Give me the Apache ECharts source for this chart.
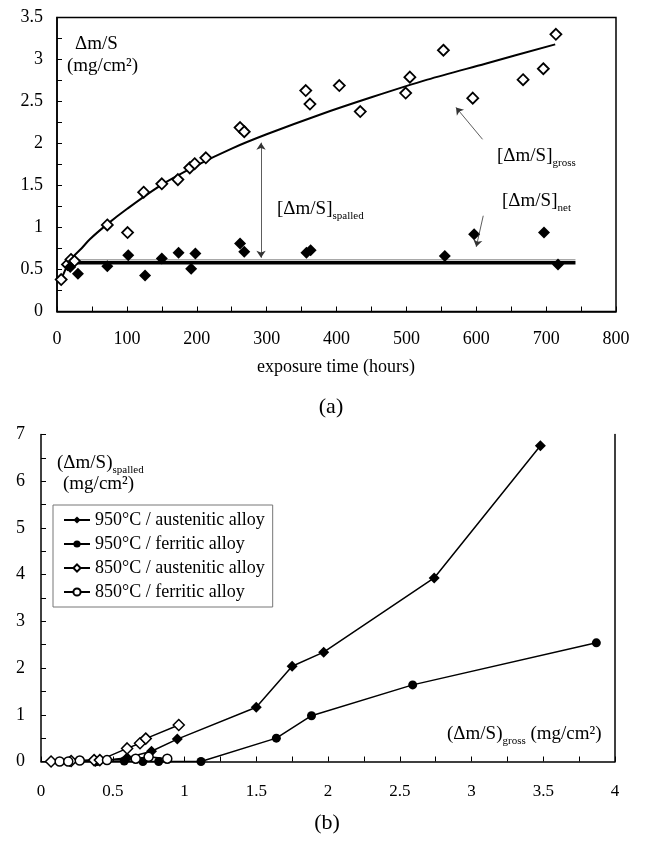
<!DOCTYPE html>
<html>
<head>
<meta charset="utf-8">
<script src="https://cdn.jsdelivr.net/npm/echarts@6/dist/echarts.min.js"></script>
<style>
html,body{margin:0;padding:0;background:#fff;}
#c{width:646px;height:841px;}
</style>
</head>
<body>
<div id="c"></div>
<script>
// ---------- (a) mass change vs exposure time ----------
const grossT = [6, 15, 20, 25, 72, 101, 124, 150, 173, 190, 197, 213, 262, 268, 356, 362, 404, 434, 499, 505, 553, 595, 667, 696, 714];
const grossV = [0.38, 0.56, 0.62, 0.60, 1.03, 0.94, 1.42, 1.52, 1.57, 1.71, 1.76, 1.83, 2.19, 2.14, 2.63, 2.47, 2.69, 2.38, 2.60, 2.79, 3.11, 2.54, 2.76, 2.89, 3.30];
const netT = [19, 30, 72, 102, 126, 150, 174, 192, 198, 262, 268, 357, 363, 555, 597, 697, 717];
const netV = [0.53, 0.45, 0.54, 0.67, 0.43, 0.63, 0.70, 0.51, 0.69, 0.81, 0.71, 0.70, 0.73, 0.66, 0.92, 0.94, 0.56];
const fitT = [6, 15, 23, 35, 47, 72, 100, 150, 200, 250, 300, 375, 450, 530, 613, 713];
const fitV = [0.38, 0.55, 0.65, 0.75, 0.86, 1.04, 1.22, 1.51, 1.74, 1.94, 2.11, 2.34, 2.55, 2.76, 2.95, 3.18];
const netLineT = [15, 742];
const netLineV = [0.58, 0.58];
const netLineGreyV = [0.615, 0.615];
const xTicksA = [0, 100, 200, 300, 400, 500, 600, 700, 800];
const yTicksA = [0, 0.5, 1, 1.5, 2, 2.5, 3, 3.5];
// annotation arrows (data space): [x1, y1, x2, y2]
const arrowSpalled = [292, 2.01, 292, 0.64];
const arrowGross = [609, 2.05, 571, 2.43];
const arrowNet = [610, 1.14, 600, 0.77];

// ---------- (b) spalled vs gross ----------
const names = ['950°C / austenitic alloy', '950°C / ferritic alloy', '850°C / austenitic alloy', '850°C / ferritic alloy'];
const aus950X = [0.20, 0.38, 0.60, 0.77, 0.95, 1.50, 1.75, 1.97, 2.74, 3.48];
const aus950Y = [0.00, 0.00, 0.08, 0.22, 0.48, 1.16, 2.04, 2.34, 3.93, 6.76];
const fer950X = [0.39, 0.58, 0.71, 0.82, 1.115, 1.64, 1.885, 2.59, 3.87];
const fer950Y = [0.00, 0.01, 0.00, 0.00, 0.00, 0.50, 0.98, 1.64, 2.54];
const aus850X = [0.07, 0.21, 0.37, 0.41, 0.60, 0.69, 0.73, 0.96];
const aus850Y = [0.00, 0.01, 0.03, 0.03, 0.28, 0.39, 0.49, 0.78];
const fer850X = [0.13, 0.19, 0.27, 0.46, 0.66, 0.75, 0.88];
const fer850Y = [0.00, 0.00, 0.02, 0.03, 0.06, 0.10, 0.06];
const xTicksB = [0, 0.5, 1, 1.5, 2, 2.5, 3, 3.5, 4];
const yTicksB = [0, 1, 2, 3, 4, 5, 6, 7];

const FONT = '"Liberation Serif", "Times New Roman", serif';
const zip = (a, b) => a.map((v, i) => [v, b[i]]);

const axisCommon = {
  type: 'value',
  axisLine: {show: true, lineStyle: {color: '#000', width: 1.5}},
  axisTick: {show: true, inside: true, length: 5, lineStyle: {color: '#000', width: 1}},
  minorTick: {show: true, splitNumber: 2, length: 5, lineStyle: {color: '#000', width: 1}},
  splitLine: {show: false},
  axisLabel: {color: '#000', fontFamily: FONT, fontSize: 18}
};

const rich = {
  a: {fontFamily: FONT, fontSize: 19, color: '#000', verticalAlign: 'bottom', lineHeight: 22},
  s: {fontFamily: FONT, fontSize: 11, color: '#000', verticalAlign: 'bottom', lineHeight: 22, padding: [0, 0, -3, 0]}
};
function label(x, y, txt, align) {
  return {type: 'text', x: x, y: y, style: {text: txt, rich: rich, align: align || 'left', verticalAlign: 'middle'}};
}
function plain(x, y, txt, size, align) {
  return {type: 'text', x: x, y: y, style: {text: txt, font: size + 'px ' + FONT, fill: '#000', align: align || 'left', verticalAlign: 'middle'}};
}

const chart = echarts.init(document.getElementById('c'), null, {renderer: 'canvas'});
const option = {
  backgroundColor: '#fff',
  animation: false,
  grid: [
    {left: 57, top: 17.5, width: 559, height: 294, show: true, borderColor: '#000', borderWidth: 1.5, backgroundColor: 'transparent'},
    {left: 41, top: 434.5, width: 574, height: 327}
  ],
  xAxis: [
    Object.assign({}, axisCommon, {gridIndex: 0, min: xTicksA[0], max: xTicksA[xTicksA.length - 1], interval: xTicksA[1] - xTicksA[0],
      axisLabel: Object.assign({}, axisCommon.axisLabel, {margin: 19})}),
    Object.assign({}, axisCommon, {gridIndex: 1, min: xTicksB[0], max: xTicksB[xTicksB.length - 1], interval: xTicksB[1] - xTicksB[0],
      axisLabel: Object.assign({}, axisCommon.axisLabel, {margin: 22, fontSize: 17})})
  ],
  yAxis: [
    Object.assign({}, axisCommon, {gridIndex: 0, min: yTicksA[0], max: yTicksA[yTicksA.length - 1], interval: yTicksA[1] - yTicksA[0],
      axisLabel: Object.assign({}, axisCommon.axisLabel, {margin: 14})}),
    Object.assign({}, axisCommon, {gridIndex: 1, min: yTicksB[0], max: yTicksB[yTicksB.length - 1], interval: yTicksB[1] - yTicksB[0],
      axisLabel: Object.assign({}, axisCommon.axisLabel, {margin: 16})}),
    {type: 'value', gridIndex: 1, position: 'right', min: 0, max: 7, axisLine: {show: true, onZero: false, lineStyle: {color: '#000', width: 1.5}},
      axisTick: {show: false}, axisLabel: {show: false}, splitLine: {show: false}}
  ],
  legend: {
    data: names,
    orient: 'vertical',
    left: 53, top: 505,
    itemWidth: 26, itemHeight: 9, itemGap: 6,
    padding: [6, 8, 6, 10],
    borderColor: '#777', borderWidth: 1,
    textStyle: {fontFamily: FONT, fontSize: 18, color: '#000'}
  },
  series: [
    {name: 'fitGross', type: 'line', xAxisIndex: 0, yAxisIndex: 0, data: zip(fitT, fitV), smooth: 0.3, showSymbol: false,
      lineStyle: {color: '#000', width: 2}, z: 2},
    {name: 'netGrey', type: 'line', xAxisIndex: 0, yAxisIndex: 0, data: zip(netLineT, netLineGreyV), showSymbol: false,
      lineStyle: {color: '#a8a8a8', width: 1.5}, z: 1},
    {name: 'netLine', type: 'line', xAxisIndex: 0, yAxisIndex: 0, data: zip(netLineT, netLineV), showSymbol: false,
      lineStyle: {color: '#000', width: 3.5}, z: 2},
    {name: 'gross', type: 'scatter', xAxisIndex: 0, yAxisIndex: 0, data: zip(grossT, grossV), symbol: 'diamond', symbolSize: 11,
      itemStyle: {color: '#fff', borderColor: '#000', borderWidth: 1.8, opacity: 1}, z: 3},
    {name: 'net', type: 'scatter', xAxisIndex: 0, yAxisIndex: 0, data: zip(netT, netV), symbol: 'diamond', symbolSize: 12,
      itemStyle: {color: '#000', opacity: 1}, z: 3},
    {name: 'arrows', type: 'lines', coordinateSystem: 'cartesian2d', xAxisIndex: 0, yAxisIndex: 0, z: 4,
      lineStyle: {color: '#333', width: 0.8, opacity: 1},
      data: [
        {coords: [[arrowSpalled[0], arrowSpalled[1]], [arrowSpalled[2], arrowSpalled[3]]], symbol: ['arrow', 'arrow'], symbolSize: 7},
        {coords: [[arrowGross[0], arrowGross[1]], [arrowGross[2], arrowGross[3]]], symbol: ['none', 'arrow'], symbolSize: 7},
        {coords: [[arrowNet[0], arrowNet[1]], [arrowNet[2], arrowNet[3]]], symbol: ['none', 'arrow'], symbolSize: 7}
      ]},
    {name: names[0], type: 'line', xAxisIndex: 1, yAxisIndex: 1, data: zip(aus950X, aus950Y), symbol: 'diamond', symbolSize: 11,
      lineStyle: {color: '#000', width: 1.5}, itemStyle: {color: '#000'}, z: 3},
    {name: names[1], type: 'line', xAxisIndex: 1, yAxisIndex: 1, data: zip(fer950X, fer950Y), symbol: 'circle', symbolSize: 9,
      lineStyle: {color: '#000', width: 1.5}, itemStyle: {color: '#000'}, z: 3},
    {name: names[2], type: 'line', xAxisIndex: 1, yAxisIndex: 1, data: zip(aus850X, aus850Y), symbol: 'diamond', symbolSize: 11,
      lineStyle: {color: '#000', width: 1.5}, itemStyle: {color: '#fff', borderColor: '#000', borderWidth: 1.5}, z: 4},
    {name: names[3], type: 'line', xAxisIndex: 1, yAxisIndex: 1, data: zip(fer850X, fer850Y), symbol: 'circle', symbolSize: 9,
      lineStyle: {color: '#000', width: 1.5}, itemStyle: {color: '#fff', borderColor: '#000', borderWidth: 1.5}, z: 4}
  ],
  graphic: [
    plain(75, 44, 'Δm/S', 19),
    plain(67, 66, '(mg/cm²)', 19),
    label(277, 208, '{a|[Δm/S]}{s|spalled}'),
    label(497, 155, '{a|[Δm/S]}{s|gross}'),
    label(502, 200, '{a|[Δm/S]}{s|net}'),
    plain(336, 367, 'exposure time (hours)', 18, 'center'),
    plain(331, 407, '(a)', 22, 'center'),
    label(57, 462, '{a|(Δm/S)}{s|spalled}'),
    plain(63, 484, '(mg/cm²)', 19),
    label(447, 733, '{a|(Δm/S)}{s|gross}{a| (mg/cm²)}'),
    plain(327, 823, '(b)', 22, 'center')
  ]
};
chart.setOption(option);
</script>
</body>
</html>
